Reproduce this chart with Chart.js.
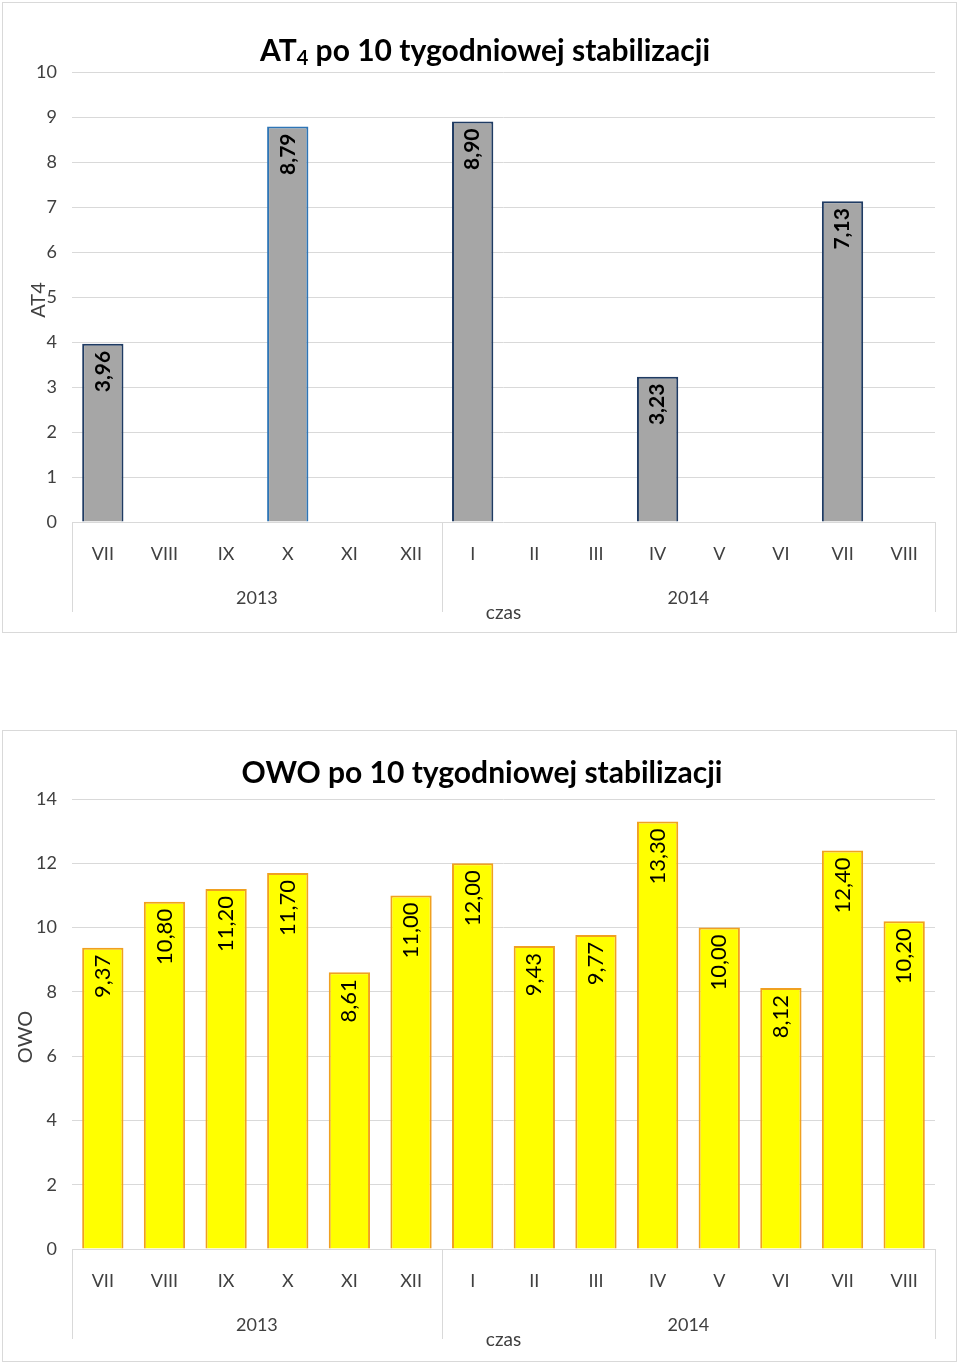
<!DOCTYPE html>
<html>
<head>
<meta charset="utf-8">
<script src="https://cdn.jsdelivr.net/npm/chart.js@4.4.0/dist/chart.umd.min.js"></script>
<style>
  body { margin: 0; background: #fff; }
  .box { position: absolute; left: 2px; width: 953px; border: 1px solid #d9d9d9; background: #fff; }
  #box1 { top: 2px; height: 629px; }
  #box2 { top: 730px; height: 630px; }
</style>
</head>
<body>
<div class="box" id="box1"><canvas id="at4Chart"></canvas></div>
<div class="box" id="box2"><canvas id="owoChart"></canvas></div>
<script>
const months = ['VII', 'VIII', 'IX', 'X', 'XI', 'XII', 'I', 'II', 'III', 'IV', 'V', 'VI', 'VII', 'VIII'];
const years = [{ label: '2013', from: 0, to: 5 }, { label: '2014', from: 6, to: 13 }];
const at4Values = [3.96, null, null, 8.79, null, null, 8.90, null, null, 3.23, null, null, 7.13, null];
const owoValues = [9.37, 10.80, 11.20, 11.70, 8.61, 11.00, 12.00, 9.43, 9.77, 13.30, 10.00, 8.12, 12.40, 10.20];
const at4Borders = ['#1f3b63', '#1f3b63', '#1f3b63', '#2e75b6', '#1f3b63', '#1f3b63', '#1f3b63', '#1f3b63', '#1f3b63', '#1f3b63', '#1f3b63', '#1f3b63', '#1f3b63', '#1f3b63'];

const FONT = 'Lato, "Open Sans", sans-serif';

// title, y title, year groups and value labels
const decor = {
  id: 'decor',
  afterDraw(chart, args, o) {
    const c = chart.ctx, a = chart.chartArea, x = chart.scales.x;
    c.save();
    // title with optional subscript
    c.fillStyle = '#000';
    c.textBaseline = 'middle';
    const big = 'bold 30px ' + FONT, small = 'bold 20px ' + FONT;
    c.font = big; const w1 = c.measureText(o.title[0]).width;
    c.font = small; const w2 = o.title[1] ? c.measureText(o.title[1]).width : 0;
    c.font = big; const w3 = c.measureText(o.title[2]).width;
    let tx = o.titleX - (w1 + w2 + w3) / 2;
    c.textAlign = 'left';
    c.font = big; c.fillText(o.title[0], tx, o.titleY); tx += w1;
    if (o.title[1]) { c.font = small; c.fillText(o.title[1], tx, o.titleY + 8); tx += w2; }
    c.font = big; c.fillText(o.title[2], tx, o.titleY);

    // y axis title
    c.save();
    c.translate(o.yTitleX, o.yTitleY);
    c.rotate(-Math.PI / 2);
    c.textAlign = 'center';
    c.font = '20px ' + FONT;
    c.fillStyle = '#404040';
    c.fillText(o.yTitle, 0, 0);
    c.restore();

    // group separators and years
    const step = x.getPixelForValue(1) - x.getPixelForValue(0);
    c.strokeStyle = '#d9d9d9';
    c.lineWidth = 1;
    const edges = [a.left, ...years.map(g => x.getPixelForValue(g.to) + step / 2)];
    edges.forEach(px => {
      c.beginPath();
      c.moveTo(Math.round(px) + 0.5, a.bottom);
      c.lineTo(Math.round(px) + 0.5, a.bottom + 90);
      c.stroke();
    });
    c.font = '18px ' + FONT;
    c.fillStyle = '#404040';
    c.textAlign = 'center';
    years.forEach(g => {
      const cx = (x.getPixelForValue(g.from) + x.getPixelForValue(g.to)) / 2;
      c.fillText(g.label, cx, a.bottom + 76);
    });
    c.font = '19px ' + FONT;
    c.fillText('czas', (a.left + a.right) / 2, a.bottom + 91);

    // value labels
    const meta = chart.getDatasetMeta(0);
    const data = chart.data.datasets[0].data;
    c.fillStyle = '#000';
    c.font = o.labelFont;
    meta.data.forEach((bar, i) => {
      if (data[i] == null) return;
      c.save();
      c.translate(bar.x, bar.y + 7);
      c.rotate(-Math.PI / 2);
      c.textAlign = 'right';
      c.textBaseline = 'middle';
      c.fillText(data[i].toFixed(2).replace('.', ','), 0, 0);
      c.restore();
    });
    c.restore();
  }
};

function makeChart(id, values, bg, border, yMax, yStep, padTop, xHeight, decorOpts) {
  return new Chart(document.getElementById(id), {
    type: 'bar',
    data: {
      labels: months,
      datasets: [{
        data: values,
        backgroundColor: bg,
        borderColor: border,
        borderWidth: 2,
        borderSkipped: 'bottom',
        barPercentage: 0.67,
        categoryPercentage: 1
      }]
    },
    options: {
      responsive: true,
      maintainAspectRatio: false,
      animation: false,
      layout: { padding: { top: padTop, right: 21, left: 0, bottom: 0 } },
      plugins: { legend: { display: false }, tooltip: { enabled: false }, decor: decorOpts },
      scales: {
        x: {
          grid: { display: false },
          border: { display: false },
          ticks: { color: '#404040', font: { family: FONT, size: 18 }, padding: 13, maxRotation: 0, autoSkip: false },
          afterFit: s => { s.height = xHeight; }
        },
        y: {
          min: 0, max: yMax,
          grid: { color: '#d9d9d9', drawTicks: false },
          border: { display: false },
          ticks: { stepSize: yStep, color: '#404040', font: { family: FONT, size: 18 }, padding: 15 },
          afterFit: s => { s.width = 69; }
        }
      }
    },
    plugins: [decor]
  });
}

makeChart('at4Chart', at4Values, '#a6a6a6', at4Borders, 10, 1, 69, 110, {
  title: ['AT', '4', ' po 10 tygodniowej stabilizacji'], titleX: 482, titleY: 48,
  yTitle: 'AT4', yTitleX: 36, yTitleY: 297, labelFont: 'bold 21px ' + FONT
});
makeChart('owoChart', owoValues, '#ffff00', '#f0a020', 14, 2, 68, 112, {
  title: ['OWO', '', ' po 10 tygodniowej stabilizacji'], titleX: 479, titleY: 42,
  yTitle: 'OWO', yTitleX: 23, yTitleY: 306, labelFont: '22px ' + FONT
});
</script>
</body>
</html>
